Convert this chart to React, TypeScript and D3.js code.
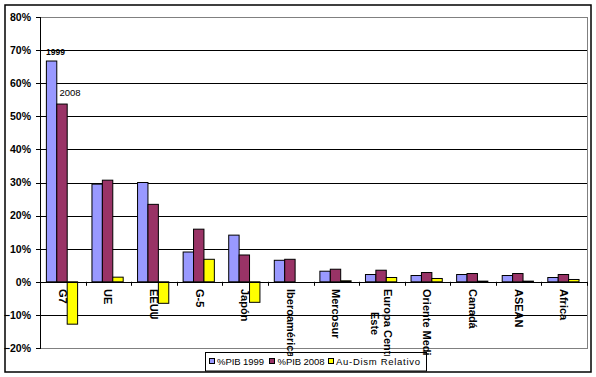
import React from "react";
import * as d3 from "d3";

const categories = [
  "G7",
  "UE",
  "EEUU",
  "G-5",
  "Japón",
  "Iberoamérica",
  "Mercosur",
  "Europa Central y\nEste",
  "Oriente Medio",
  "Canadá",
  "ASEAN",
  "Africa",
];
const seriesNames = ["%PIB 1999", "%PIB 2008", "Au-Dism Relativo"];
const pib1999 = [0.667, 0.295, 0.3, 0.09, 0.141, 0.065, 0.032, 0.022, 0.019, 0.022, 0.019, 0.013];
const pib2008 = [0.537, 0.307, 0.234, 0.159, 0.081, 0.068, 0.038, 0.035, 0.028, 0.025, 0.025, 0.022];
const auDism = [-0.128, 0.014, -0.065, 0.068, -0.062, 0.0, 0.003, 0.013, 0.01, 0.002, 0.002, 0.007];
const yTicks = [-0.2, -0.1, 0, 0.1, 0.2, 0.3, 0.4, 0.5, 0.6, 0.7, 0.8];
const colors = ["#9999FF", "#993366", "#FFFF00"];

const W = 596;
const H = 377;
const PL = 40;
const PR = 587;
const PT = 17;
const PB = 348;
const FONT = "'Liberation Sans', Arial, sans-serif";

export default function App() {
  const series = [pib1999, pib2008, auDism];
  const y = d3.scaleLinear().domain([-0.2, 0.8]).range([PB, PT]);
  const x0 = d3.scaleBand<string>().domain(categories).range([PL, PR]).padding(0);
  const bw = x0.bandwidth();
  const groupW = bw * 0.685;
  const x1 = d3
    .scaleBand<string>()
    .domain(seriesNames)
    .range([(bw - groupW) / 2 - 0.8, (bw + groupW) / 2 - 0.8]);
  const y0 = y(0);
  const fmt = d3.format(".0%");
  const boundaries = d3.range(categories.length + 1).map((i) => PL + i * bw);

  const legendItems = [
    { sx: 209.5, tx: 217, len: 47 },
    { sx: 269.5, tx: 277.5, len: 47 },
    { sx: 328.5, tx: 336, len: 84 },
  ];

  return (
    <svg
      width={W}
      height={H}
      style={{ position: "absolute", left: 0, top: 0, background: "#fff" }}
      fontFamily={FONT}
    >
      <defs>
        <clipPath id="lblclip">
          <rect x={0} y={0} width={W} height={356} />
        </clipPath>
      </defs>
      <rect x={0} y={0} width={W} height={H} fill="#fff" />
      <rect x={5} y={5} width={586} height={367} fill="none" stroke="#000" strokeWidth={1.5} />

      {/* gridlines */}
      {yTicks
        .filter((t) => t > -0.2 && t < 0.8)
        .map((t) => (
          <line key={t} x1={PL} x2={PR} y1={Math.round(y(t)) + 0.5} y2={Math.round(y(t)) + 0.5} stroke="#000" strokeWidth={1} />
        ))}
      {/* plot border */}
      <rect x={PL + 0.5} y={PT + 0.5} width={PR - PL} height={PB - PT} fill="none" stroke="#808080" strokeWidth={1} />

      {/* bars */}
      {categories.map((c, i) => (
        <g key={c} transform={`translate(${x0(c)},0)`}>
          {series.map((s, j) => {
            const v = s[i];
            const top = Math.min(y(v), y0);
            const h = Math.abs(y(v) - y0);
            if (h < 0.3) return null;
            return (
              <rect
                key={j}
                x={(x1(seriesNames[j]) as number)}
                y={top}
                width={x1.bandwidth()}
                height={h}
                fill={colors[j]}
                stroke="#000"
                strokeWidth={1}
              />
            );
          })}
        </g>
      ))}

      {/* y axis */}
      <line x1={PL + 0.5} x2={PL + 0.5} y1={PT} y2={PB + 1} stroke="#000" strokeWidth={1} />
      {yTicks.map((t) => (
        <g key={t}>
          <line x1={PL - 4} x2={PL} y1={Math.round(y(t)) + 0.5} y2={Math.round(y(t)) + 0.5} stroke="#000" />
          <text x={31} y={y(t) + 3.8} textAnchor="end" fontSize={10.5} fontWeight="bold" fill="#000">
            {fmt(t)}
          </text>
        </g>
      ))}

      {/* x axis */}
      <line x1={PL} x2={PR} y1={Math.round(y0) + 0.5} y2={Math.round(y0) + 0.5} stroke="#000" strokeWidth={1} />
      {boundaries.map((b, i) => (
        <line key={i} x1={Math.round(b) + 0.5} x2={Math.round(b) + 0.5} y1={y0} y2={y0 + 4} stroke="#000" />
      ))}

      {/* data labels */}
      <text
        x={(x0(categories[0]) as number) + (x1(seriesNames[0]) as number) + x1.bandwidth() / 2 + 4}
        y={y(pib1999[0]) - 6.5}
        textAnchor="middle"
        fontSize={8.5}
        fontWeight="bold"
        fill="#000"
      >
        1999
      </text>
      <text
        x={(x0(categories[0]) as number) + (x1(seriesNames[1]) as number) + 2.7}
        y={y(pib2008[0]) - 8}
        textAnchor="start"
        fontSize={9.5}
        fill="#000"
      >
        2008
      </text>

      {/* legend */}
      <rect x={205.5} y={352.5} width={221} height={18.5} fill="#fff" stroke="#000" strokeWidth={1} />
      {seriesNames.map((n, j) => (
        <g key={n}>
          <rect x={legendItems[j].sx} y={358.5} width={5} height={5} fill={colors[j]} stroke="#000" strokeWidth={1} />
          <text
            x={legendItems[j].tx}
            y={365}
            fontSize={9.5}
            fill="#000"
            textLength={legendItems[j].len}
            lengthAdjust="spacing"
          >
            {n}
          </text>
        </g>
      ))}

      {/* category labels */}
      <g clipPath="url(#lblclip)">
        {categories.map((c) => {
          const cx = (x0(c) as number) + bw / 2;
          const lines = c.split("\n");
          const n = lines.length;
          return (
            <g key={c} transform={`translate(${cx},289) rotate(90)`}>
              {lines.map((l, k) => (
                <text
                  key={k}
                  x={k === 0 ? 0 : 23}
                  y={(k - (n - 1) / 2) * 13}
                  dy="0.36em"
                  fontSize={11}
                  fontWeight="bold"
                  fill="#000"
                >
                  {l}
                </text>
              ))}
            </g>
          );
        })}
      </g>
    </svg>
  );
}
